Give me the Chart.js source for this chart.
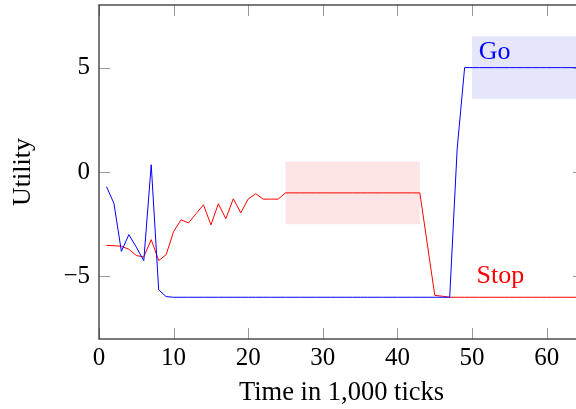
<!DOCTYPE html>
<html><head><meta charset="utf-8">
<script src="https://cdn.jsdelivr.net/npm/chart.js@4"></script>
<style>
html,body{margin:0;padding:0;overflow:hidden;background:#fff;width:576px;height:409px}
#wrap{width:600px;height:409px;position:relative}
</style>
</head><body><div id="wrap"><canvas id="c"></canvas></div>
<script>
const time = [1,2,3,4,5,6,7,8,9,10,11,12,13,14,15,16,17,18,19,20,21,22,23,24,25,26,27,28,29,30,31,32,33,34,35,36,37,38,39,40,41,42,43,44,45,46,47,48,49,50,51,52,53,54,55,56,57,58,59,60,61,62,63,64,65];
const goUtility = [-0.7,-1.5,-3.8,-3.0,-3.6,-4.25,0.35,-5.65,-5.97,
  -6,-6,-6,-6,-6,-6,-6,-6,-6,-6,
  -6,-6,-6,-6,-6,-6,-6,-6,-6,-6,
  -6,-6,-6,-6,-6,-6,-6,-6,-6,-6,
  -6,-6,-6,-6,-6,-6,-6,-6,
  1.1,
  5,5,5,5,5,5,5,5,5,5,
  5,5,5,5,5,5,5];
const stopUtility = [-3.52,-3.53,-3.56,-3.7,-4.0,-4.07,-3.24,-4.24,-3.96,
  -2.85,-2.29,-2.44,-2.0,-1.57,-2.53,-1.52,-2.24,-1.28,-1.96,
  -1.29,-1.04,-1.3,-1.3,-1.3,-1.0,-1,-1,-1,-1,
  -1,-1,-1,-1,-1,-1,-1,-1,-1,-1,
  -1,-1,-1,-1,-3.45,-5.91,-5.95,-6.0,
  -6,-6,-6,-6,-6,-6,-6,-6,-6,-6,
  -6,-6,-6,-6,-6,-6,-6,-6];
const xTickValues = [0,10,20,30,40,50,60];
const yTickValues = [-5,0,5];
const stopBand = {x0:25, x1:43, y0:-2.5, y1:0.5};
const goBand = {x0:50, x1:65, y0:3.5, y1:6.5};
const seriesNames = ['Go','Stop'];

const FONT = '"Liberation Serif", "Times New Roman", serif';
const labelPos = [{x:50.9, y:5.41, color:'#0000ff'}, {x:50.6, y:-5.32, color:'#ff0000'}];

const bandsPlugin = {
  id:'bands',
  beforeDatasetsDraw(chart){
    const {ctx, scales:{x,y}} = chart;
    const draw = (b, col) => {
      const l = x.getPixelForValue(b.x0), r = x.getPixelForValue(b.x1);
      const t = y.getPixelForValue(b.y1), bt = y.getPixelForValue(b.y0);
      ctx.save(); ctx.fillStyle = col; ctx.fillRect(l, t, r-l, bt-t); ctx.restore();
    };
    draw(stopBand, 'rgb(253,229,229)');
    draw(goBand, 'rgb(229,229,252)');
  }
};
const framePlugin = {
  id:'frame',
  afterDraw(chart){
    const {ctx, chartArea:a, scales:{x,y}} = chart;
    ctx.save();
    ctx.strokeStyle = '#999'; ctx.lineWidth = 1;
    const L = 11;
    ctx.beginPath();
    xTickValues.forEach(v=>{
      const px = Math.round(x.getPixelForValue(v))+0.5;
      ctx.moveTo(px, a.bottom); ctx.lineTo(px, a.bottom-L);
      ctx.moveTo(px, a.top); ctx.lineTo(px, a.top+L);
    });
    yTickValues.forEach(v=>{
      const py = Math.round(y.getPixelForValue(v))+0.5;
      ctx.moveTo(a.left, py); ctx.lineTo(a.left+L, py);
      ctx.moveTo(a.right, py); ctx.lineTo(a.right-L, py);
    });
    ctx.stroke();
    ctx.strokeStyle = '#333'; ctx.lineWidth = 1.3;
    ctx.strokeRect(a.left, a.top, a.right-a.left, a.bottom-a.top);
    ctx.font = '26px ' + FONT;
    ctx.textAlign = 'left'; ctx.textBaseline = 'alphabetic';
    seriesNames.forEach((n,i)=>{
      ctx.fillStyle = labelPos[i].color;
      ctx.fillText(n, x.getPixelForValue(labelPos[i].x), y.getPixelForValue(labelPos[i].y));
    });
    ctx.restore();
  }
};

new Chart(document.getElementById('c'), {
  type:'line',
  data:{
    datasets:[
      {label:seriesNames[0], data: time.map((t,i)=>({x:t,y:goUtility[i]})), borderColor:'#0000ff', borderWidth:1, pointRadius:0, tension:0, fill:false},
      {label:seriesNames[1], data: time.map((t,i)=>({x:t,y:stopUtility[i]})), borderColor:'#ff0000', borderWidth:1, pointRadius:0, tension:0, fill:false}
    ]
  },
  options:{
    responsive:true, maintainAspectRatio:false, animation:false, devicePixelRatio:1,
    layout:{padding:{top:5, right:16, left:0, bottom:0}},
    plugins:{legend:{display:false}, tooltip:{enabled:false}},
    scales:{
      x:{type:'linear', min:0, max:65,
        afterBuildTicks(s){ s.ticks = xTickValues.map(v=>({value:v})); },
        afterFit(s){ s.height = 70; s.paddingLeft = 0; s.paddingRight = 0; },
        grid:{display:false, drawTicks:false}, border:{display:false},
        ticks:{color:'#000', font:{family:FONT, size:25}, padding:4, maxRotation:0, autoSkip:false},
        title:{display:true, text:'Time in 1,000 ticks', color:'#000', font:{family:FONT, size:26.5}, padding:{top:0,bottom:0}}
      },
      y:{type:'linear', min:-8, max:8,
        afterBuildTicks(s){ s.ticks = yTickValues.map(v=>({value:v})); },
        afterFit(s){ s.width = 99; s.paddingTop = 0; s.paddingBottom = 0; },
        grid:{display:false, drawTicks:false}, border:{display:false},
        ticks:{color:'#000', font:{family:FONT, size:25}, padding:9,
          callback:v=> v<0 ? '\u2212'+Math.abs(v) : String(v)},
        title:{display:true, text:'Utility', color:'#000', font:{family:FONT, size:26}, padding:{top:8,bottom:0}}
      }
    }
  },
  plugins:[bandsPlugin, framePlugin]
});
</script>
</body></html>
